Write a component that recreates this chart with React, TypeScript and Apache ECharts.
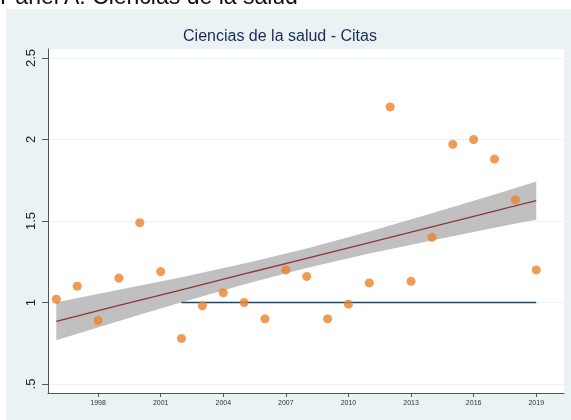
import React, { useEffect, useRef } from "react";
import * as echarts from "echarts";

const years = [1996, 1997, 1998, 1999, 2000, 2001, 2002, 2003, 2004, 2005, 2006, 2007, 2008, 2009, 2010, 2011, 2012, 2013, 2014, 2015, 2016, 2017, 2018, 2019];
const citas = [1.02, 1.10, 0.89, 1.15, 1.49, 1.19, 0.78, 0.98, 1.06, 1.00, 0.90, 1.20, 1.16, 0.90, 0.99, 1.12, 2.20, 1.13, 1.40, 1.97, 2.00, 1.88, 1.63, 1.20];

const fitYears = [1996, 1999, 2002, 2005, 2008, 2011, 2014, 2017, 2019];
const fitValues = [0.885, 0.982, 1.078, 1.175, 1.271, 1.368, 1.464, 1.561, 1.625];
const fitLower = [0.768, 0.886, 1.001, 1.111, 1.211, 1.301, 1.381, 1.459, 1.508];
const fitUpper = [1.002, 1.078, 1.155, 1.239, 1.331, 1.435, 1.547, 1.663, 1.742];

const refYears = [2002, 2019];
const refValues = [1, 1];

const xTicks = [1998, 2001, 2004, 2007, 2010, 2013, 2016, 2019];
const yTicks = [0.5, 1, 1.5, 2, 2.5];

const chartTitle = "Ciencias de la salud - Citas";
const panelTitle = "Panel A: Ciencias de la salud";

export default function App() {
  const ref = useRef<HTMLDivElement>(null);
  useEffect(() => {
    if (!ref.current) return;
    const chart = echarts.init(ref.current, undefined, { renderer: "svg" });
    const bandData = fitYears.map((y, i) => [y, fitLower[i], fitUpper[i]]);
    chart.setOption({
      animation: false,
      graphic: [
        { type: "rect", z: -10, shape: { x: 6, y: 9, width: 565, height: 411 }, style: { fill: "#eaf2f3" } },
        { type: "text", x: 0, y: 7, style: { text: panelTitle, font: "23px 'Liberation Sans', Arial, sans-serif", fill: "#111", verticalAlign: "bottom" } },
        { type: "text", x: 280, y: 35, style: { text: chartTitle, font: "16px 'Liberation Sans', Arial, sans-serif", fill: "#1c2c57", align: "center", verticalAlign: "middle" } },
      ],
      grid: { left: 48, top: 49, right: 7, bottom: 27, show: true, backgroundColor: "#ffffff", borderWidth: 0 },
      xAxis: {
        type: "value",
        min: 1995.6,
        max: 2020.33,
        axisLine: { show: true, lineStyle: { color: "#555", width: 1 } },
        axisTick: { show: true, length: 4, lineStyle: { color: "#555" }, customValues: xTicks },
        axisLabel: {
          customValues: xTicks,
          fontSize: 7,
          color: "#333",
          margin: 6,
          fontFamily: "'Liberation Sans', Arial, sans-serif",
          formatter: (v: number) => String(v),
        },
        splitLine: { show: false },
      },
      yAxis: {
        type: "value",
        min: 0.445,
        max: 2.555,
        axisLine: { show: true, lineStyle: { color: "#555", width: 1 } },
        axisTick: { show: true, length: 6, lineStyle: { color: "#555" }, customValues: yTicks },
        axisLabel: {
          customValues: yTicks,
          rotate: 90,
          fontSize: 13,
          color: "#222",
          margin: 11,
          fontFamily: "'Liberation Sans', Arial, sans-serif",
          formatter: (v: number) => (v < 1 ? String(v).replace(/^0/, "") : String(v)),
        },
        splitLine: { show: true, lineStyle: { color: "#eaf2f3", width: 1 } },
      },
      series: [
        {
          type: "custom",
          z: 1,
          data: bandData,
          renderItem: (params: any, api: any) => {
            if (params.dataIndex !== 0) return null;
            const up = bandData.map((d) => api.coord([d[0], d[2]]));
            const lo = bandData.map((d) => api.coord([d[0], d[1]])).reverse();
            return { type: "polygon", shape: { points: up.concat(lo) }, style: { fill: "#c0c0c0", stroke: "none" } };
          },
        },
        {
          type: "line",
          z: 2,
          data: fitYears.map((y, i) => [y, fitValues[i]]),
          symbol: "none",
          lineStyle: { color: "#90353b", width: 1.3 },
        },
        {
          type: "line",
          z: 3,
          data: refYears.map((y, i) => [y, refValues[i]]),
          symbol: "none",
          lineStyle: { color: "#1a476f", width: 1.6 },
        },
        {
          type: "scatter",
          z: 4,
          data: years.map((y, i) => [y, citas[i]]),
          symbolSize: 9,
          itemStyle: { color: "#e8822b" },
        },
      ],
    });
    return () => chart.dispose();
  }, []);
  return <div ref={ref} style={{ position: "fixed", left: 0, top: 0, width: 571, height: 420 }} />;
}
